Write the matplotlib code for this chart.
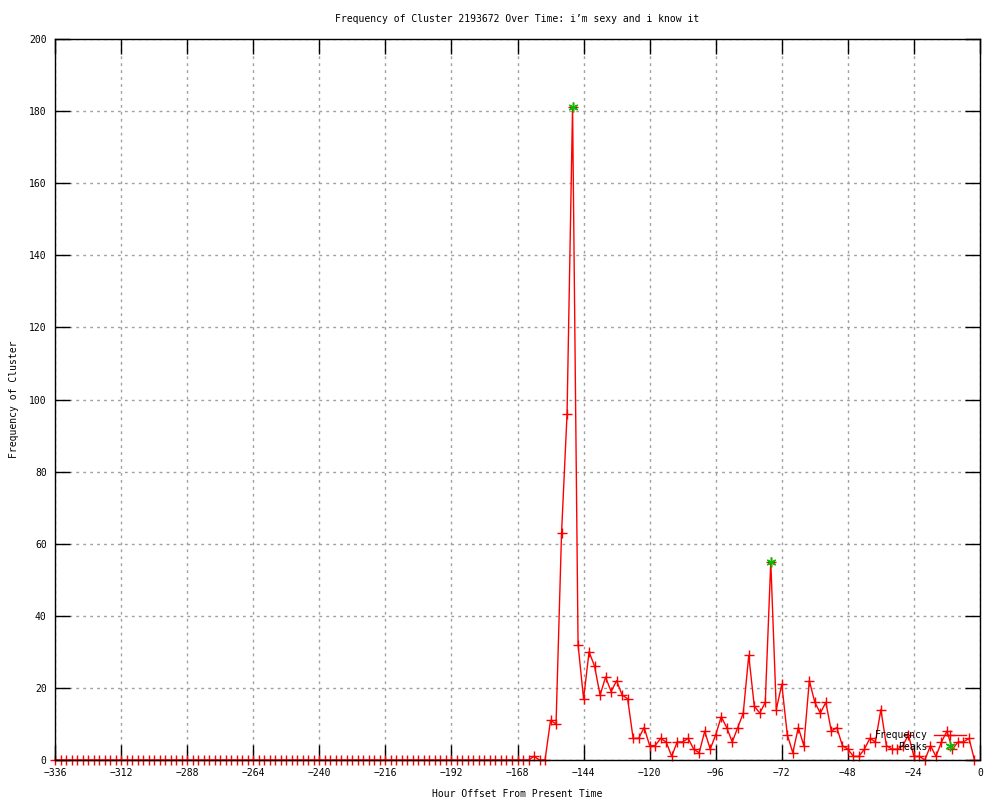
import matplotlib
matplotlib.use("Agg")
import matplotlib.pyplot as plt
import numpy as np

# horas (cada 2 h) y frecuencia del cluster
horas = np.arange(-336, -1, 2)
frecuencia = [0, 0, 0, 0, 0, 0, 0, 0, 0, 0, 0, 0, 0, 0, 0, 0, 0, 0, 0, 0,
              0, 0, 0, 0, 0, 0, 0, 0, 0, 0, 0, 0, 0, 0, 0, 0, 0, 0, 0, 0,
              0, 0, 0, 0, 0, 0, 0, 0, 0, 0, 0, 0, 0, 0, 0, 0, 0, 0, 0, 0,
              0, 0, 0, 0, 0, 0, 0, 0, 0, 0, 0, 0, 0, 0, 0, 0, 0, 0, 0, 0,
              0, 0, 0, 0, 0, 0, 0,
              1, 0, 0, 11, 10, 63, 96, 181, 32, 17, 30, 26, 18, 23, 19, 22,
              18, 17, 6, 6, 9, 4, 4, 6, 5, 1, 5, 5, 6, 3, 2, 8, 3, 7, 12, 9,
              5, 9, 13, 29, 15, 13, 16, 55, 14, 21, 7, 2, 9, 4, 22, 16, 13, 16,
              8, 9, 4, 3, 1, 1, 3, 6, 5, 14, 4, 3, 3, 4, 7, 1, 1, 0, 4, 1,
              5, 8, 3, 5, 5, 6, 0]

picos_horas = [-148, -76]
picos_valores = [181, 55]

titulo = "Frequency of Cluster 2193672 Over Time: i\u2019m sexy and i know it"
x_ticks = list(range(-336, 1, 24))
y_ticks = list(range(0, 201, 20))

plt.rcParams['font.family'] = ['DejaVu Sans Mono']
plt.rcParams['font.size'] = 7

fig = plt.figure(figsize=(10, 8), dpi=100)
ax = fig.add_axes([0.055, 0.05, 0.925, 0.90125])

ax.plot(horas, frecuencia, color='#ff0000', linewidth=1, marker='+',
        markersize=7, markeredgewidth=1, label='Frequency', clip_on=False)
ax.plot(picos_horas, picos_valores, linestyle='none', color='#00c000',
        marker=(6, 2, 0), markersize=7, markeredgewidth=1, label='Peaks')

ax.set_xlim(-336, 0)
ax.set_ylim(0, 200)
ax.set_xticks(x_ticks)
ax.set_yticks(y_ticks)
ax.tick_params(direction='in', length=11, width=1, top=True, right=True,
               labelsize=7, pad=6)
ax.grid(True, color='#a0a0a0', linestyle=(0, (2, 3)), linewidth=1)
for s in ax.spines.values():
    s.set_linewidth(1)
    s.set_zorder(3)

ax.set_title(titulo, fontsize=7, pad=12)
ax.set_xlabel("Hour Offset From Present Time", fontsize=7, labelpad=8)
ax.set_ylabel("Frequency of Cluster", fontsize=7, labelpad=7)

ax.legend(loc='lower right', bbox_to_anchor=(0.99, 0.005), frameon=False,
          markerfirst=False, handlelength=3.3, handletextpad=0.6,
          labelspacing=0.15, borderpad=0, fontsize=7)

fig.savefig("out.png", dpi=100)
